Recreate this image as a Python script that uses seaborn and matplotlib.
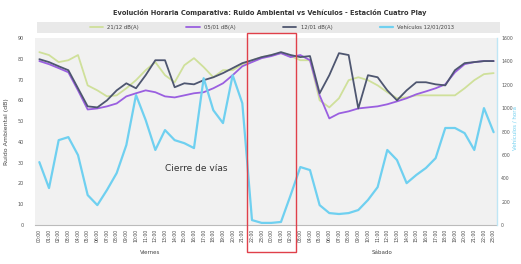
import numpy as np
import pandas as pd
import matplotlib
matplotlib.use("Agg")
import matplotlib.pyplot as plt
import matplotlib.transforms as mtransforms
from matplotlib.patches import Rectangle
import seaborn as sns

# ---------------- data ----------------
hours = [f"{h:02d}:00" for h in range(24)] * 2
days = ["Viernes", "Sábado"]

ruido_a = [83.2, 81.8, 78.4, 79.3, 81.8, 67.2, 64.8, 61.9, 62.4, 65.8, 69.7, 74.5,
           78.4, 72.1, 68.7, 76.9, 80.3, 76.0, 71.1, 74.5, 74.5, 77.4, 79.3, 80.8,
           81.8, 82.7, 81.3, 79.3, 79.3, 60.0, 56.6, 61.0, 69.7, 71.1, 69.7, 67.2,
           63.9, 61.0, 61.4, 62.4, 62.4, 62.4, 62.4, 62.4, 65.8, 69.7, 72.6, 73.1]
ruido_b = [78.9, 77.4, 75.5, 73.5, 64.8, 55.6, 56.1, 57.1, 58.5, 61.9, 63.4, 64.8,
           63.9, 61.9, 61.4, 62.4, 63.4, 63.9, 65.8, 68.2, 72.1, 76.4, 78.4, 80.3,
           81.3, 82.7, 80.8, 81.8, 79.3, 62.4, 51.3, 53.7, 54.7, 56.1, 56.6, 57.1,
           58.1, 59.5, 61.0, 62.9, 64.3, 65.8, 67.7, 73.5, 77.4, 78.4, 78.9, 78.9]
ruido_c = [79.8, 78.4, 76.4, 74.5, 65.8, 57.1, 56.6, 60.0, 64.8, 68.2, 65.8, 72.1,
           79.3, 79.3, 66.3, 68.2, 67.7, 69.7, 71.1, 73.1, 75.5, 77.9, 79.3, 80.8,
           81.8, 83.2, 81.8, 80.8, 81.3, 63.4, 72.1, 82.7, 81.8, 56.1, 72.1, 71.1,
           64.8, 60.0, 64.8, 68.7, 68.7, 67.7, 67.2, 74.5, 77.9, 78.4, 78.9, 78.9]
vehiculos = [538, 316, 726, 752, 598, 256, 170, 300, 444, 684, 1112, 898,
             642, 812, 726, 700, 658, 1256, 982, 872, 1282, 1042, 42, 18,
             18, 26, 256, 496, 470, 170, 102, 94, 102, 128, 214, 324,
             642, 556, 358, 428, 488, 572, 830, 830, 786, 642, 1000, 794]

labels = ["21/12 dB(A)", "05/01 dB(A)", "12/01 dB(A)", "Vehículos 12/01/2013"]
colors = ["#cfe09a", "#9a5fe0", "#4e5670", "#6fd0f0"]

df = pd.DataFrame({"idx": np.arange(len(hours)), "a": ruido_a, "b": ruido_b,
                   "c": ruido_c, "veh": vehiculos})

# ---------------- figure ----------------
sns.set_theme(style="white")
plt.rcParams["font.family"] = ["DejaVu Sans"]

fig = plt.figure(figsize=(5.21, 2.64), dpi=100)
fig.patch.set_facecolor("white")
ax = fig.add_axes([35 / 521, 1 - 225 / 264, 462 / 521, 187 / 264])
ax.set_facecolor("#f1f1f1")
ax2 = ax.twinx()

sns.lineplot(data=df, x="idx", y="a", ax=ax, color=colors[0], lw=1.3, label=labels[0], legend=False)
sns.lineplot(data=df, x="idx", y="b", ax=ax, color=colors[1], lw=1.3, label=labels[1], legend=False)
sns.lineplot(data=df, x="idx", y="c", ax=ax, color=colors[2], lw=1.3, label=labels[2], legend=False)
sns.lineplot(data=df, x="idx", y="veh", ax=ax2, color=colors[3], lw=1.6, label=labels[3], legend=False)

ax.set_xlim(-0.45, 47.35)
ax.set_ylim(0, 90)
ax2.set_ylim(0, 1600)
ax.set_yticks(range(0, 91, 10))
ax2.set_yticks(range(0, 1601, 200))
ax.tick_params(axis="y", labelsize=3.5, colors="#555555", length=0, pad=8)
ax2.tick_params(axis="y", labelsize=3.3, colors="#555555", length=0, pad=3)
ax.set_xticks(range(len(hours)))
ax.set_xticklabels(hours, rotation=90, fontsize=3.3, color="#444444")
ax.tick_params(axis="x", length=0, pad=3)
ax.set_xlabel("")
ax2.set_xlabel("")
ax2.set_ylabel("")
ax.set_ylabel("Ruido Ambiental (dB)", fontsize=4.5, color="#444444", labelpad=6)
fig.text(516 / 521, 1 - 128 / 264, "Vehículos / hora", rotation=90, ha="center",
         va="center", fontsize=4, color="#6fd0f0")

for s in ["top", "left", "right"]:
    ax.spines[s].set_visible(False)
    ax2.spines[s].set_visible(False)
ax2.spines["bottom"].set_visible(False)
ax.spines["bottom"].set_color("#bbbbbb")
ax.spines["bottom"].set_linestyle((0, (1, 1)))
ax.spines["bottom"].set_linewidth(0.8)
ax2.spines["right"].set_visible(True)
ax2.spines["right"].set_color("#bfe6f5")
ax2.spines["right"].set_linewidth(1.0)

# day labels under the hour labels
trans = mtransforms.blended_transform_factory(ax.transData, fig.transFigure)
ax.text(11.5, 1 - 253 / 264, days[0], transform=trans, ha="center", va="center",
        fontsize=4, color="#444444")
ax.text(35.5, 1 - 253 / 264, days[1], transform=trans, ha="center", va="center",
        fontsize=4, color="#444444")

# road closure box
box = Rectangle((21.45, 1 - 252 / 264), 5.15, (252 - 33) / 264, transform=trans,
                fill=False, edgecolor="#e0404a", lw=1.0, clip_on=False, zorder=10)
fig.patches.append(box)
ax.text(19.5, 27, "Cierre de vías", fontsize=6.5, color="#333333", ha="right", va="center")

# legend band
band = Rectangle((37 / 521, 1 - 33 / 264), 463 / 521, 11 / 264, transform=fig.transFigure,
                 facecolor="#e9e9e9", edgecolor="none", zorder=0)
fig.patches.append(band)
h1, l1 = ax.get_legend_handles_labels()
h2, l2 = ax2.get_legend_handles_labels()
fig.legend(h1 + h2, l1 + l2, loc="center", bbox_to_anchor=(272 / 521, 1 - 27.5 / 264),
           ncol=4, frameon=False, fontsize=3.8, handlelength=2.5, columnspacing=9,
           labelcolor="#444444")

fig.suptitle("Evolución Horaria Comparativa: Ruido Ambiental vs Vehículos - Estación Cuatro Play",
             fontsize=4.8, fontweight="bold", y=1 - 13 / 264, x=270 / 521, va="center",
             color="#333333")

fig.savefig("out.png", dpi=100)
